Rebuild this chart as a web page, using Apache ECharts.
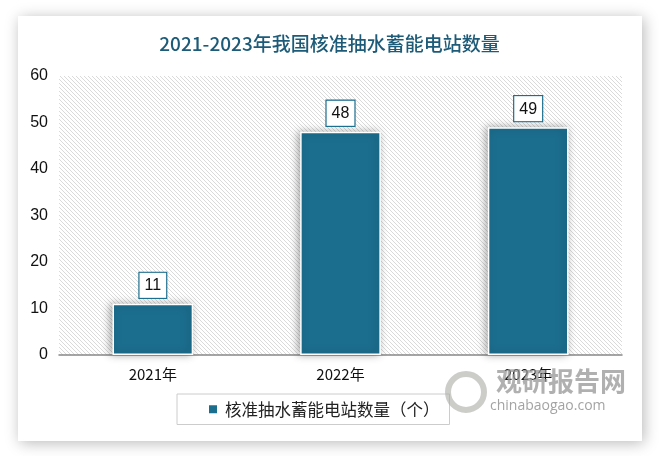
<!DOCTYPE html>
<html><head><meta charset="utf-8">
<script src="https://cdn.jsdelivr.net/npm/echarts@6/dist/echarts.min.js"></script>
<style>html,body{margin:0;padding:0;background:#fff}#c{width:659px;height:456px}</style>
</head><body><div id="c"></div>
<script>
const titleText = '2021-2023年我国核准抽水蓄能电站数量';
const categories = ['2021年', '2022年', '2023年'];
const seriesName = '核准抽水蓄能电站数量（个）';
const values = [11, 48, 49];
const yTicks = [0, 10, 20, 30, 40, 50, 60];

const pat = document.createElement('canvas');
pat.width = 4; pat.height = 4;
const g = pat.getContext('2d');
g.fillStyle = '#ffffff'; g.fillRect(0,0,4,4);
g.fillStyle = '#dadada';
for (let i = 0; i < 4; i++) { g.fillRect(i, i, 1, 1); }

const chart = echarts.init(document.getElementById('c'));
chart.setOption({
  backgroundColor: '#fff',
  graphic: [
    { type: 'rect', z: -10, shape: { x: 18, y: 16, width: 624, height: 425 },
      style: { fill: '#fff', shadowBlur: 14, shadowColor: 'rgba(0,0,0,0.28)', shadowOffsetX: 2, shadowOffsetY: 2 } },
    { type: 'text', z: 5, left: 496, top: 368,
      style: { text: '观研报告网', font: 'bold 26px "Noto Sans CJK SC"', fill: 'rgba(150,150,150,0.75)' } },
    { type: 'text', z: 5, left: 490, top: 399,
      style: { text: 'chinabaogao.com', font: '14px "Open Sans"', fill: 'rgba(140,140,140,0.8)' } },
    { type: 'circle', z: 5, shape: { cx: 466, cy: 392, r: 18 },
      style: { fill: 'none', stroke: 'rgba(170,170,165,0.6)', lineWidth: 6 } }
  ],
  title: {
    text: titleText, left: 'center', top: 29,
    textStyle: { fontFamily: '"Noto Sans CJK SC"', fontWeight: 500, fontSize: 19, color: '#1d5b78' }
  },
  grid: {
    left: 59, right: 37, top: 76, bottom: 101,
    show: true, borderWidth: 0,
    backgroundColor: { image: pat, repeat: 'repeat' }
  },
  legend: {
    data: [seriesName], left: 177, top: 394,
    padding: [7, 10, 7, 30], borderColor: '#cccccc', borderWidth: 1,
    itemWidth: 10, itemHeight: 10, icon: 'rect',
    textStyle: { fontFamily: '"Noto Sans CJK SC"', fontSize: 16.5, color: '#222', padding: [0, 0, 0, 2] }
  },
  xAxis: {
    type: 'category', data: categories,
    axisLine: { lineStyle: { color: '#888', width: 1.5 } },
    axisTick: { show: false },
    axisLabel: { fontFamily: '"Noto Sans CJK SC"', fontSize: 15, color: '#111', margin: 12 }
  },
  yAxis: {
    type: 'value', min: yTicks[0], max: yTicks[yTicks.length - 1], interval: 10,
    axisLine: { show: false }, axisTick: { show: false }, splitLine: { show: false },
    axisLabel: { fontFamily: '"Liberation Sans", Arial', fontSize: 16, color: '#111', margin: 11 }
  },
  series: [{
    name: seriesName, type: 'bar', data: values, barWidth: '43%',
    itemStyle: { color: '#1c6e8f', borderColor: '#fff', borderWidth: 1.5,
      shadowBlur: 8, shadowColor: 'rgba(0,0,0,0.35)', shadowOffsetX: -2, shadowOffsetY: 0 },
    label: {
      show: true, position: 'top', distance: 6,
      fontFamily: '"Liberation Sans", Arial', fontSize: 16, color: '#111',
      backgroundColor: '#fff', borderColor: '#1c6e8f', borderWidth: 1.2,
      padding: [5, 5, 4, 5]
    }
  }]
});
</script></body></html>
